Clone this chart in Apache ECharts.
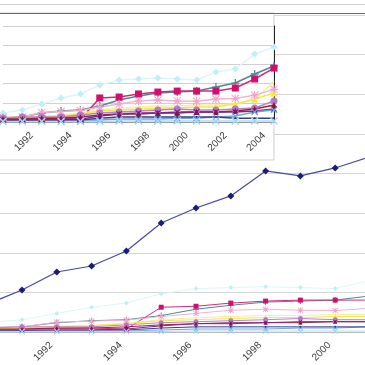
<!DOCTYPE html>
<html><head><meta charset="utf-8">
<script src="https://cdn.jsdelivr.net/npm/echarts@6/dist/echarts.min.js"></script>
<style>html,body{margin:0;padding:0;background:#fff}#c{width:365px;height:365px}</style>
</head><body><div id="c"></div>
<script>
const years = ['1990','1991','1992','1993','1994','1995','1996','1997','1998','1999','2000','2001','2002','2003','2004'];
const bigBlue    = [1.4,2.12,3.03,3.33,4.09,5.5,6.26,6.87,8.13,7.88,8.28,8.84,null,null,null];
const cyanPale   = [0.47,0.62,0.94,1.25,1.46,1.93,2.19,2.24,2.29,2.24,2.19,2.6,2.76,3.54,3.9];
const teal       = [0.21,0.26,0.47,0.57,0.62,0.83,1.15,1.35,1.51,1.56,1.61,1.82,2.03,2.5,2.92];
const magenta    = [0.15,0.15,0.18,0.2,0.15,1.25,1.3,1.46,1.56,1.61,1.61,1.61,1.77,2.24,2.81];
const paleYellow = [0.2,0.25,0.3,0.35,0.45,0.62,0.72,0.78,0.83,0.83,0.88,0.88,0.94,1.15,2.13];
const yellow     = [0.15,0.2,0.26,0.31,0.42,0.57,0.62,0.68,0.73,0.73,0.78,0.78,0.94,1.2,1.51];
const pink       = [0.25,0.26,0.5,0.55,0.6,0.78,0.94,1.1,1.15,1.1,1.08,1.2,1.22,1.4,1.7];
const purple     = [0.2,0.26,0.26,0.26,0.36,0.47,0.52,0.57,0.62,0.68,0.62,0.62,0.68,0.73,1.1];
const maroon     = [0.15,0.15,0.2,0.2,0.26,0.36,0.42,0.42,0.47,0.47,0.52,0.52,0.57,0.68,0.89];
const darkPurple = [0.1,0.1,0.1,0.1,0.15,0.31,0.42,0.47,0.47,0.52,0.52,0.52,0.52,0.57,0.68];
const lightBlue  = [0.05,0.05,0.05,0.05,0.05,0.1,0.15,0.15,0.15,0.2,0.2,0.26,0.31,0.52,0.62];
const navy       = [0.08,0.08,0.1,0.1,0.1,0.2,0.26,0.26,0.26,0.26,0.26,0.26,0.2,0.2,0.2];
const skyPale    = [0.03,0.03,0.03,0.03,0.03,0.03,0.05,0.05,0.05,0.05,0.05,0.05,0.05,0.05,0.05];

const PLUS = 'path://M4.2,0 h1.6 v4.2 h4.2 v1.6 h-4.2 v4.2 h-1.6 v-4.2 h-4.2 v-1.6 h4.2 Z';
const XS = 'path://M0,1.2 L1.2,0 L5,3.8 L8.8,0 L10,1.2 L6.2,5 L10,8.8 L8.8,10 L5,6.2 L1.2,10 L0,8.8 L3.8,5 Z';
const AST = 'path://M4.3,0 h1.4 v10 h-1.4 Z M0,4.3 h10 v1.4 h-10 Z M0.9,0 L10,9.1 L9.1,10 L0,0.9 Z M9.1,0 L10,0.9 L0.9,10 L0,9.1 Z';

const small = [
  {name:'cyanPale', data:cyanPale, color:'#bff0f4', line:'#dcf6f8', sym:'diamond', s:7},
  {name:'teal', data:teal, color:'#4f8797', line:'#4f8797', sym:PLUS, s:8},
  {name:'magenta', data:magenta, color:'#d30f6c', line:'#d8287a', sym:'rect', s:7},
  {name:'paleYellow', data:paleYellow, color:'#f6ef9c', line:'#f6ef9c', sym:'none', s:6},
  {name:'yellow', data:yellow, color:'#f4ea3a', line:'#f2e84c', sym:'triangle', s:7},
  {name:'pink', data:pink, color:'#f3a2c8', line:'#f3b2d2', sym:AST, s:8},
  {name:'purple', data:purple, color:'#b478c8', line:'#b982cc', sym:'circle', s:7},
  {name:'maroon', data:maroon, color:'#9c0f32', line:'#a0203c', sym:'triangle', s:6},
  {name:'darkPurple', data:darkPurple, color:'#6e1c6e', line:'#7a2a7a', sym:XS, s:6},
  {name:'lightBlue', data:lightBlue, color:'#70a8d8', line:'#70a8d8', sym:XS, s:7},
  {name:'navy', data:navy, color:'#303088', line:'#3a3a90', sym:'circle', s:2},
  {name:'skyPale', data:skyPale, color:'#a4d6f2', line:'#b0dcf4', sym:XS, s:8}
];

const series = [];
small.forEach(d => series.push({
  type:'line', xAxisIndex:0, yAxisIndex:0, data:d.data, z:1,
  symbol:d.sym, symbolSize:Math.max(2,d.s-2), showSymbol:d.sym!=='none',
  itemStyle:{color:d.color}, lineStyle:{color:d.line, width:1}, animation:false
}));
series.push({type:'line', xAxisIndex:0, yAxisIndex:0, data:bigBlue, z:2,
  symbol:'diamond', symbolSize:7, itemStyle:{color:'#1c1c78'},
  lineStyle:{color:'#4848a2', width:1.2}, animation:false});
small.forEach(d => series.push({
  type:'line', xAxisIndex:1, yAxisIndex:1, data:d.data, z:30,
  symbol:d.sym, symbolSize:d.s, showSymbol:d.sym!=='none',
  itemStyle:{color:d.color}, lineStyle:{color:d.line, width:1.5}, animation:false
}));

const labelFont = {fontFamily:'Liberation Sans, Arial, sans-serif', fontSize:10, color:'#3a3a3a'};

const option = {
  backgroundColor:'#fff',
  animation:false,
  grid:[
    {left:-12.8, right:-109.4, top:15, bottom:33, outerBoundsMode:'none', containLabel:false},
    {left:3, right:91, top:26, bottom:243, z:20, outerBoundsMode:'none', containLabel:false}
  ],
  xAxis:[
    {type:'category', gridIndex:0, data:years, boundaryGap:false, z:0,
     axisLine:{show:true, lineStyle:{color:'#bbb'}}, axisTick:{show:false},
     axisLabel:Object.assign({rotate:45, interval:1, margin:6, padding:[0,8,0,0], hideOverlap:false}, labelFont),
     splitLine:{show:false}},
    {type:'category', gridIndex:1, data:years, boundaryGap:false, z:20,
     axisLine:{show:true, lineStyle:{color:'#999'}}, axisTick:{show:false},
     axisLabel:Object.assign({rotate:45, interval:1, margin:2, padding:[0,14,0,0], hideOverlap:false}, labelFont),
     splitLine:{show:false}}
  ],
  yAxis:[
    {type:'value', gridIndex:0, min:0, max:16, interval:2, z:0,
     axisLine:{show:false}, axisTick:{show:false}, axisLabel:{show:false},
     splitLine:{lineStyle:{color:'#d6d6d6'}}},
    {type:'value', gridIndex:1, min:0, max:5, interval:1, position:'right', z:20,
     axisLine:{show:true, lineStyle:{color:'#222'}}, axisTick:{show:false}, axisLabel:{show:false},
     splitLine:{lineStyle:{color:'#d0d0d0'}}}
  ],
  graphic:[
    {type:'rect', z:10, shape:{x:-2, y:13, width:276, height:147},
     style:{fill:'#fff', stroke:'#cfcfcf', lineWidth:1}},
    {type:'line', z:11, shape:{x1:0, y1:13.5, x2:365, y2:13.5}, style:{stroke:'#6a6a6a', lineWidth:1}},
    {type:'line', z:11, shape:{x1:0, y1:4.5, x2:365, y2:4.5}, style:{stroke:'#cfcfcf', lineWidth:1}}
  ],
  series: series
};
const chart = echarts.init(document.getElementById('c'), null, {renderer:'canvas'});
chart.setOption(option);
</script>
</body></html>
